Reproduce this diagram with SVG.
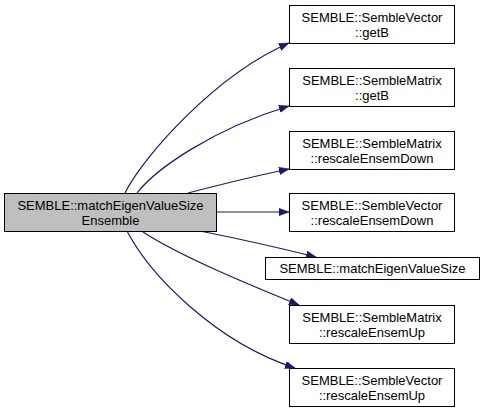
<svg xmlns="http://www.w3.org/2000/svg" width="483" height="412" viewBox="0 0 483 412">
<style>
.node rect{fill:#ffffff;stroke:#000000;stroke-width:1}
#root rect{fill:#bfbfbf}
text{font-family:"Liberation Sans",Arial,Helvetica,sans-serif;font-size:13px;fill:#000000;text-anchor:middle}
.edge{fill:none;stroke:#191970;stroke-width:1.2;marker-end:url(#ah)}
</style>
<defs>
<marker id="ah" markerUnits="userSpaceOnUse" markerWidth="11" markerHeight="8" refX="10" refY="3.75" orient="auto">
<path d="M0,0 L10,3.75 L0,7.5 Z" fill="#191970" stroke="#191970" stroke-width="0.5"/>
</marker>
</defs>
<rect width="483" height="412" fill="#ffffff"/>
<g id="edges">
<path class="edge" d="M125,193 C142,158 215,75 289,43"/>
<path class="edge" d="M137,193 C155,170 210,130 289,106"/>
<path class="edge" d="M188,193 C215,186 255,176 289,169"/>
<path class="edge" d="M217,212 L289,212"/>
<path class="edge" d="M200,231 C240,239 280,248 316,257"/>
<path class="edge" d="M143,232 C180,256 245,283 299,305"/>
<path class="edge" d="M127,231 C150,275 215,342 295,368"/>
</g>
<g id="root" class="node">
<rect x="4.5" y="193.5" width="212" height="38"/>
<text x="110.5" y="210">SEMBLE::matchEigenValueSize</text>
<text x="110.5" y="224.5">Ensemble</text>
</g>
<g id="n1" class="node">
<rect x="289.5" y="5.5" width="165" height="38"/>
<text x="372" y="22">SEMBLE::SembleVector</text>
<text x="372" y="36.5">::getB</text>
</g>
<g id="n2" class="node">
<rect x="289.5" y="68.5" width="165" height="38"/>
<text x="372" y="85">SEMBLE::SembleMatrix</text>
<text x="372" y="99.5">::getB</text>
</g>
<g id="n3" class="node">
<rect x="289.5" y="131.5" width="165" height="38"/>
<text x="372" y="148">SEMBLE::SembleMatrix</text>
<text x="372" y="162.5">::rescaleEnsemDown</text>
</g>
<g id="n4" class="node">
<rect x="289.5" y="193.5" width="165" height="38"/>
<text x="372" y="210">SEMBLE::SembleVector</text>
<text x="372" y="224.5">::rescaleEnsemDown</text>
</g>
<g id="n5" class="node">
<rect x="265.5" y="257.5" width="214" height="22"/>
<text x="372.5" y="273">SEMBLE::matchEigenValueSize</text>
</g>
<g id="n6" class="node">
<rect x="289.5" y="305.5" width="165" height="38"/>
<text x="372" y="322">SEMBLE::SembleMatrix</text>
<text x="372" y="336.5">::rescaleEnsemUp</text>
</g>
<g id="n7" class="node">
<rect x="289.5" y="368.5" width="165" height="38"/>
<text x="372" y="385">SEMBLE::SembleVector</text>
<text x="372" y="399.5">::rescaleEnsemUp</text>
</g>
</svg>
